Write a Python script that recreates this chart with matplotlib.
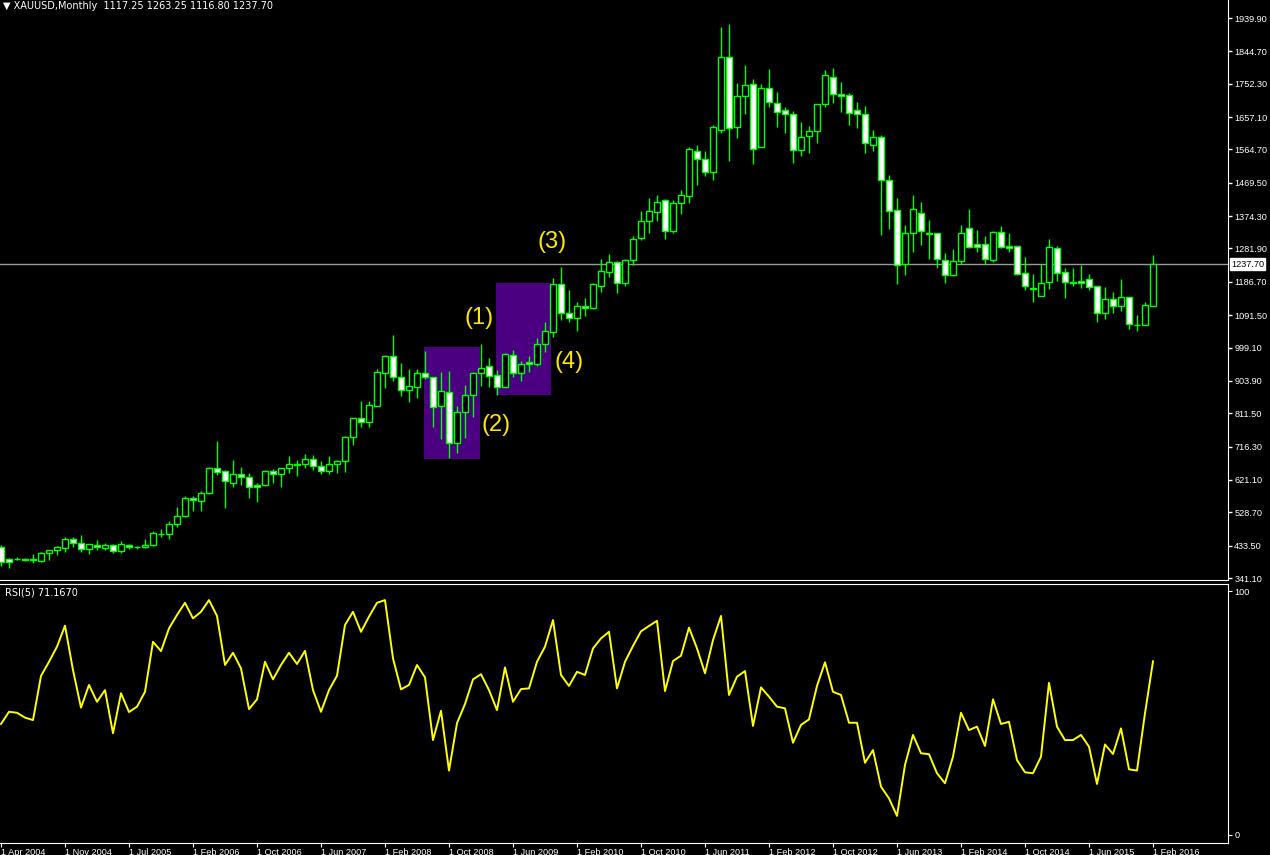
import numpy as np
import matplotlib.pyplot as plt
from matplotlib.patches import Rectangle

# monthly XAUUSD candles (one bar per month)
opens = [429, 394, 394, 395, 393, 391, 412, 420, 428, 452,
         440, 423, 436, 428, 434, 417, 436, 430, 431, 434,
         468, 466, 494, 517, 570, 562, 583, 654, 646, 613,
         637, 629, 606, 606, 648, 637, 654, 668, 666, 680,
         660, 648, 666, 674, 745, 797, 786, 833, 925, 975,
         916, 877, 887, 925, 914, 833, 871, 727, 816, 864,
         925, 947, 920, 887, 977, 927, 957, 951, 1008, 1043,
         1180, 1098, 1082, 1117, 1112, 1176, 1216, 1242, 1182, 1249,
         1311, 1360, 1387, 1419, 1333, 1411, 1433, 1559, 1536, 1501,
         1620, 1828, 1628, 1716, 1751, 1573, 1739, 1696, 1676, 1665,
         1562, 1602, 1616, 1693, 1771, 1722, 1719, 1676, 1665, 1578,
         1599, 1476, 1391, 1239, 1325, 1382, 1327, 1325, 1248, 1205,
         1245, 1339, 1294, 1294, 1248, 1328, 1288, 1288, 1211, 1170,
         1147, 1187, 1282, 1216, 1184, 1190, 1194, 1174, 1097, 1137,
         1117, 1142, 1064, 1062, 1117.25]
highs = [435, 399, 401, 398, 410, 414, 420, 432, 458, 458,
         464, 438, 449, 441, 438, 447, 438, 432, 452, 475,
         481, 504, 544, 574, 575, 589, 658, 732, 649, 678,
         658, 640, 611, 650, 651, 654, 689, 678, 695, 692,
         674, 689, 678, 747, 797, 846, 846, 937, 978, 1035,
         954, 937, 937, 989, 914, 930, 932, 832, 892, 930,
         1009, 968, 935, 984, 992, 961, 975, 1027, 1073, 1197,
         1229, 1163, 1128, 1140, 1182, 1252, 1265, 1245, 1252, 1317,
         1389, 1425, 1434, 1424, 1419, 1449, 1572, 1577, 1560, 1634,
         1913, 1923, 1753, 1806, 1765, 1751, 1793, 1728, 1685, 1673,
         1642, 1632, 1693, 1791, 1797, 1756, 1725, 1700, 1689, 1620,
         1605, 1491, 1425, 1348, 1434, 1416, 1362, 1327, 1268, 1279,
         1348, 1394, 1334, 1317, 1331, 1345, 1325, 1290, 1257, 1209,
         1239, 1309, 1289, 1225, 1225, 1235, 1209, 1175, 1171, 1158,
         1195, 1144, 1092, 1129, 1263.25]
lows = [376, 371, 393, 390, 385, 387, 393, 408, 416, 431,
        416, 410, 422, 422, 413, 412, 425, 425, 427, 432,
        459, 453, 488, 515, 533, 533, 582, 635, 542, 602,
        607, 570, 559, 605, 611, 602, 641, 633, 656, 650,
        639, 639, 642, 645, 721, 773, 773, 833, 884, 904,
        861, 845, 856, 910, 773, 737, 683, 699, 742, 802,
        890, 887, 864, 887, 914, 904, 930, 947, 987, 1030,
        1077, 1073, 1045, 1088, 1110, 1159, 1200, 1156, 1175, 1234,
        1306, 1327, 1360, 1308, 1325, 1380, 1413, 1464, 1490, 1477,
        1611, 1533, 1596, 1666, 1523, 1573, 1685, 1629, 1613, 1527,
        1547, 1555, 1584, 1686, 1698, 1672, 1635, 1627, 1555, 1561,
        1321, 1338, 1181, 1207, 1273, 1293, 1253, 1227, 1182, 1202,
        1239, 1282, 1271, 1239, 1242, 1282, 1273, 1205, 1162, 1130,
        1147, 1166, 1190, 1141, 1176, 1170, 1162, 1073, 1081, 1099,
        1104, 1053, 1047, 1062, 1116.80]
closes = [388, 388, 395, 392, 394, 412, 420, 430, 452, 440,
          423, 438, 429, 435, 417, 438, 429, 430, 434, 469,
          468, 494, 517, 570, 563, 584, 654, 645, 617, 638,
          629, 600, 600, 648, 637, 654, 668, 663, 680, 660,
          648, 666, 674, 743, 797, 786, 834, 928, 975, 916,
          877, 889, 925, 914, 830, 875, 726, 814, 863, 925,
          940, 919, 887, 981, 927, 951, 951, 1008, 1046, 1180,
          1098, 1082, 1117, 1112, 1180, 1217, 1242, 1182, 1248, 1309,
          1359, 1388, 1416, 1333, 1412, 1434, 1565, 1536, 1501, 1628,
          1828, 1625, 1716, 1748, 1565, 1739, 1699, 1671, 1665, 1562,
          1599, 1616, 1693, 1776, 1722, 1716, 1668, 1665, 1582, 1599,
          1476, 1388, 1234, 1325, 1396, 1331, 1324, 1251, 1205, 1245,
          1325, 1285, 1285, 1251, 1328, 1285, 1282, 1209, 1174, 1167,
          1182, 1285, 1211, 1185, 1186, 1184, 1173, 1097, 1137, 1117,
          1142, 1065, 1062, 1120, 1237.70]

rsi5 = [45.5, 50.5, 50.1, 48.1, 47.1, 65.2, 71.0, 77.2, 85.8, 67.6,
        52.2, 61.5, 54.6, 59.4, 41.7, 58.1, 50.4, 52.6, 58.7, 79.2,
        75.4, 84.7, 90.2, 95.2, 88.8, 91.5, 96.3, 89.8, 69.7, 74.7,
        68.3, 51.6, 55.6, 71.0, 63.8, 69.7, 74.7, 70.1, 75.5, 59.4,
        50.5, 59.4, 65.3, 86.1, 91.5, 83.3, 89.5, 95.2, 96.3, 72.4,
        59.7, 61.5, 69.7, 64.6, 38.9, 50.9, 26.4, 45.8, 53.7, 63.8,
        65.9, 59.4, 51.2, 68.7, 54.6, 59.8, 60.1, 71.0, 77.2, 88.1,
        65.6, 61.1, 66.9, 65.6, 76.5, 80.6, 83.3, 60.1, 71.0, 77.5,
        83.5, 85.7, 87.8, 59.0, 71.3, 73.5, 85.0, 76.5, 66.3, 79.9,
        89.8, 57.4, 64.9, 67.2, 44.7, 60.5, 56.7, 52.6, 51.9, 37.8,
        45.1, 47.4, 61.1, 70.8, 58.7, 57.4, 46.0, 46.0, 29.6, 34.8,
        19.8, 15.0, 7.8, 28.7, 41.0, 33.5, 33.1, 25.3, 21.2, 32.1,
        50.1, 43.0, 44.4, 36.5, 55.6, 45.5, 46.4, 30.7, 25.7, 25.3,
        32.1, 62.4, 44.4, 38.9, 38.9, 41.0, 36.2, 20.9, 37.1, 33.2,
        43.7, 26.9, 26.4, 49.9, 71.2]

date_labels = ['1 Apr 2004', '1 Nov 2004', '1 Jul 2005', '1 Feb 2006', '1 Oct 2006',
               '1 Jun 2007', '1 Feb 2008', '1 Oct 2008', '1 Jun 2009', '1 Feb 2010',
               '1 Oct 2010', '1 Jun 2011', '1 Feb 2012', '1 Oct 2012', '1 Jun 2013',
               '1 Feb 2014', '1 Oct 2014', '1 Jun 2015', '1 Feb 2016']
price_ticks = [1939.90, 1844.70, 1752.30, 1657.10, 1564.70, 1469.50, 1374.30, 1281.90,
               1186.70, 1091.50, 999.10, 903.90, 811.50, 716.30, 621.10, 528.70,
               433.50, 341.10]

GREEN = '#00ff00'
SMALL = 'Liberation Sans'
W, H = 1270, 855
fig = plt.figure(figsize=(W / 100, H / 100), dpi=100, facecolor='black')


def px_axes(x0, y0, x1, y1):
    # box given in pixels, y measured from the top
    a = fig.add_axes([x0 / W, 1 - y1 / H, (x1 - x0) / W, (y1 - y0) / H])
    a.set_facecolor('black')
    for s in a.spines.values():
        s.set_color('white')
    return a


ax = px_axes(0, 0, 1228, 580)
ax2 = px_axes(0, 584, 1228, 843)

x = np.arange(len(closes))
o, hi, lo, c = (np.array(v, dtype=float) for v in (opens, highs, lows, closes))
up = c >= o

# marked zones
ax.add_patch(Rectangle((52.9, 681), 7.0, 320, facecolor='#4b0082', edgecolor='none', zorder=0))
ax.add_patch(Rectangle((61.9, 864), 6.85, 319, facecolor='#4b0082', edgecolor='none', zorder=0))

ax.axhline(1237.70, color='#9a9a9a', lw=1, zorder=1)

ax.vlines(x, lo, hi, color=GREEN, lw=1, zorder=2)
body_bot = np.minimum(o, c)
body_h = np.abs(c - o)
ax.bar(x[up], body_h[up], bottom=body_bot[up], width=0.66, facecolor='black',
       edgecolor=GREEN, lw=1, zorder=3)
ax.bar(x[~up], body_h[~up], bottom=body_bot[~up], width=0.66, facecolor='white',
       edgecolor=GREEN, lw=1, zorder=3)

ax.set_xlim(-0.125, 153.375)
ax.set_ylim(335.4, 1991.3)
ax.set_xticks([])
ax.yaxis.tick_right()
ax.set_yticks(price_ticks)
ax.set_yticklabels([f'{v:.2f}' for v in price_ticks], family=SMALL)
ax.tick_params(axis='y', colors='white', labelcolor='white', length=3, width=1,
               labelsize=6.6, pad=1.5)
ax.spines['top'].set_visible(False)
ax.spines['left'].set_visible(False)

lab = dict(color='#ffe800', fontsize=17, family='Liberation Sans', ha='center', va='center', zorder=4)
ax.text(59.75, 1083, '(1)', **lab)
ax.text(61.9, 778, '(2)', **lab)
ax.text(68.9, 1300, '(3)', **lab)
ax.text(71.0, 958, '(4)', **lab)

fig.text(3 / W, 1 - 1 / H, '\u25bc XAUUSD,Monthly  %.2f %.2f %.2f %.2f' % (opens[-1], highs[-1], lows[-1], closes[-1]),
         color='white', fontsize=7, ha='left', va='top')
fig.text(1231 / W, 1 - 264 / H, '%.2f' % closes[-1], color='black', fontsize=6.6, family=SMALL,
         ha='left', va='center', bbox=dict(facecolor='white', edgecolor='white', pad=0.8))

# RSI panel
ax2.plot(x, rsi5, color='#ffff00', lw=1.4)
ax2.set_xlim(-0.125, 153.375)
ax2.set_ylim(-3.3, 102.9)
ax2.yaxis.tick_right()
ax2.set_yticks([100, 0])
ax2.set_yticklabels(['100', '0'], family=SMALL)
ax2.tick_params(axis='y', colors='white', labelcolor='white', length=3, labelsize=6.6, pad=1.5)
ax2.set_xticks(np.arange(0, len(closes), 8))
ax2.set_xticklabels(date_labels, ha='left', family=SMALL)
ax2.tick_params(axis='x', colors='white', labelcolor='white', length=3, labelsize=6.6, pad=0.3)
ax2.spines['left'].set_visible(False)
ax2.text(0.004, 0.985, 'RSI(5) %.4f' % 71.1670, transform=ax2.transAxes, color='white',
         fontsize=7, ha='left', va='top')

fig.savefig('out.png', dpi=100, facecolor='black')
